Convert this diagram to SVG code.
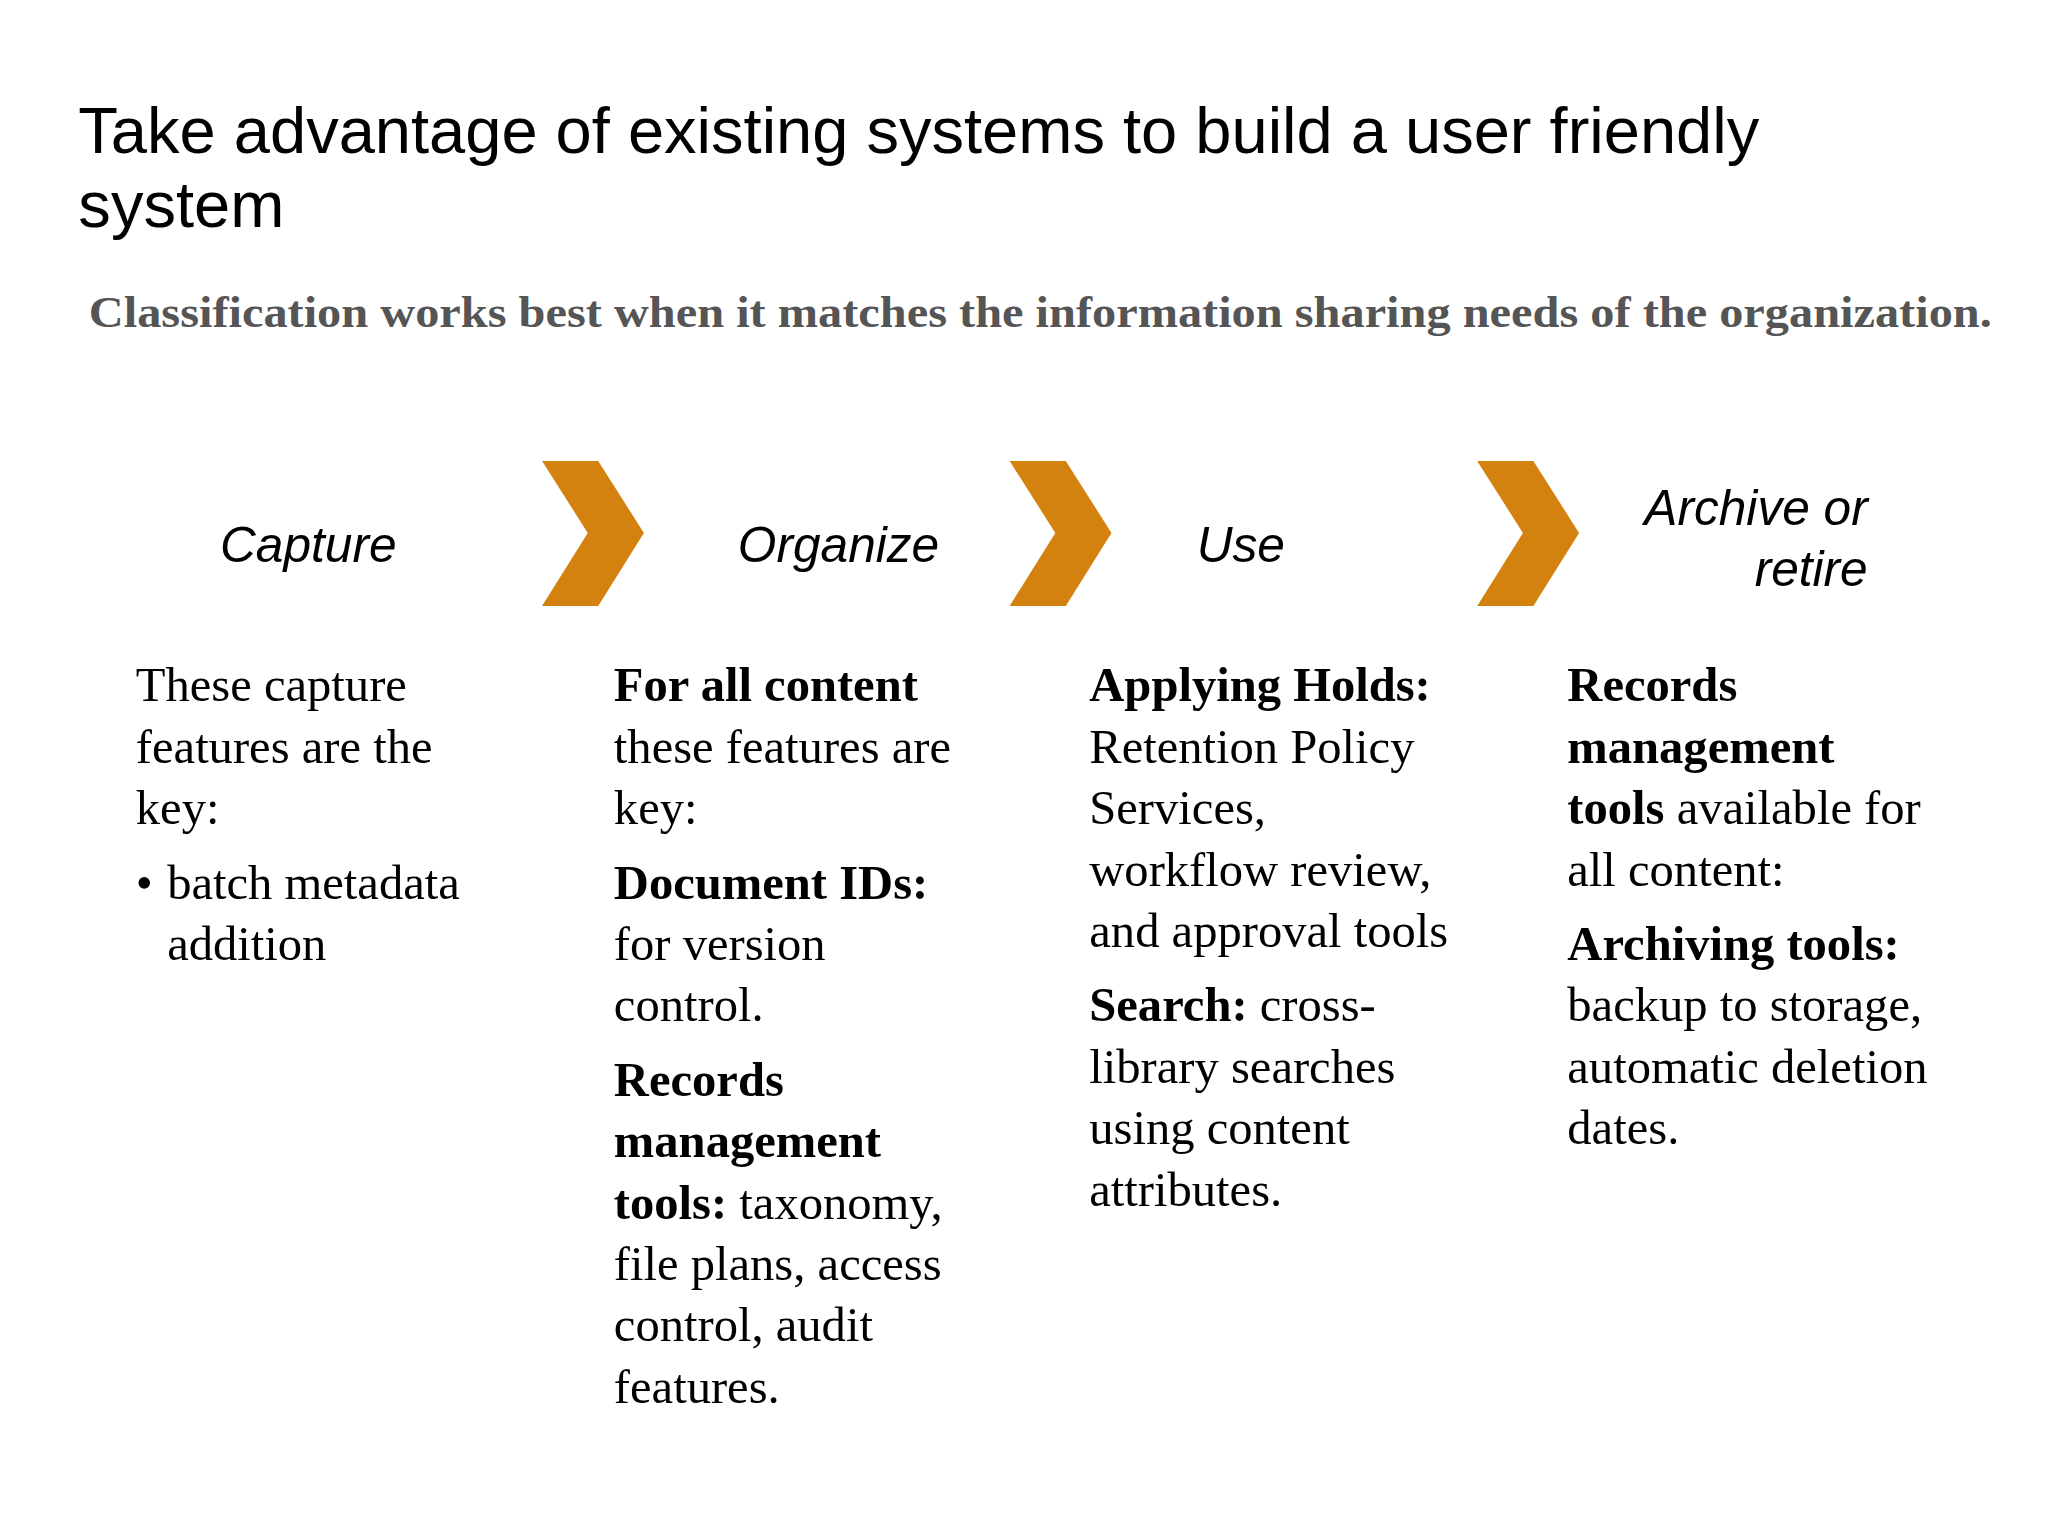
<svg xmlns="http://www.w3.org/2000/svg" width="2048" height="1536" viewBox="0 0 2048 1536">
<style>
.t{font-family:"Liberation Sans",Arial,sans-serif;font-size:49.8px;fill:#000}
.s{font-family:"Liberation Serif","Times New Roman",serif;font-size:34px;font-weight:bold;fill:#555}
.h{font-family:"Liberation Sans",Arial,sans-serif;font-size:38px;font-style:italic;fill:#000}
.b{font-family:"Liberation Serif","Times New Roman",serif;font-size:37.2px;fill:#000}
.bb{font-weight:bold}
.ch{fill:#D4820F}
</style>
<rect width="2048" height="1536" fill="#fff"/>
<g transform="scale(1.3061)">
<text class="t" x="60" y="117">Take advantage of existing systems to build a user friendly</text>
<text class="t" x="60" y="174">system</text>
<text class="s" x="68" y="250" textLength="1457" lengthAdjust="spacingAndGlyphs">Classification works best when it matches the information sharing needs of the organization.</text>
<g id="connectors">
<polygon class="ch" points="415,353 458,353 493,408 458,464 415,464 450,408"/>
<polygon class="ch" points="773,353 816,353 851,408 816,464 773,464 808,408"/>
<polygon class="ch" points="1131,353 1174,353 1209,408 1174,464 1131,464 1166,408"/>
</g>
<g id="capture">
<text class="h" x="236" y="430" text-anchor="middle">Capture</text>
<text class="b" x="104" y="537">These capture</text>
<text class="b" x="104" y="584">features are the</text>
<text class="b" x="104" y="631">key:</text>
<text class="b" x="104" y="688">•</text>
<text class="b" x="128" y="688">batch metadata</text>
<text class="b" x="128" y="735">addition</text>
</g>
<g id="organize">
<text class="h" x="642" y="430" text-anchor="middle">Organize</text>
<text class="b bb" x="470" y="537">For all content</text>
<text class="b" x="470" y="584">these features are</text>
<text class="b" x="470" y="631">key:</text>
<text class="b bb" x="470" y="688">Document IDs:</text>
<text class="b" x="470" y="735">for version</text>
<text class="b" x="470" y="782">control.</text>
<text class="b bb" x="470" y="839">Records</text>
<text class="b bb" x="470" y="886">management</text>
<text class="b" x="470" y="933"><tspan class="bb">tools:</tspan> taxonomy,</text>
<text class="b" x="470" y="980">file plans, access</text>
<text class="b" x="470" y="1027">control, audit</text>
<text class="b" x="470" y="1074">features.</text>
</g>
<g id="use">
<text class="h" x="950" y="430" text-anchor="middle">Use</text>
<text class="b bb" x="834" y="537">Applying Holds:</text>
<text class="b" x="834" y="584">Retention Policy</text>
<text class="b" x="834" y="631">Services,</text>
<text class="b" x="834" y="678">workflow review,</text>
<text class="b" x="834" y="725">and approval tools</text>
<text class="b" x="834" y="782"><tspan class="bb">Search:</tspan> cross-</text>
<text class="b" x="834" y="829">library searches</text>
<text class="b" x="834" y="876">using content</text>
<text class="b" x="834" y="923">attributes.</text>
</g>
<g id="archive">
<text class="h" x="1430" y="402" text-anchor="end">Archive or</text>
<text class="h" x="1430" y="449" text-anchor="end">retire</text>
<text class="b bb" x="1200" y="537">Records</text>
<text class="b bb" x="1200" y="584">management</text>
<text class="b" x="1200" y="631"><tspan class="bb">tools</tspan> available for</text>
<text class="b" x="1200" y="678">all content:</text>
<text class="b bb" x="1200" y="735">Archiving tools:</text>
<text class="b" x="1200" y="782">backup to storage,</text>
<text class="b" x="1200" y="829">automatic deletion</text>
<text class="b" x="1200" y="876">dates.</text>
</g>
</g>
</svg>
